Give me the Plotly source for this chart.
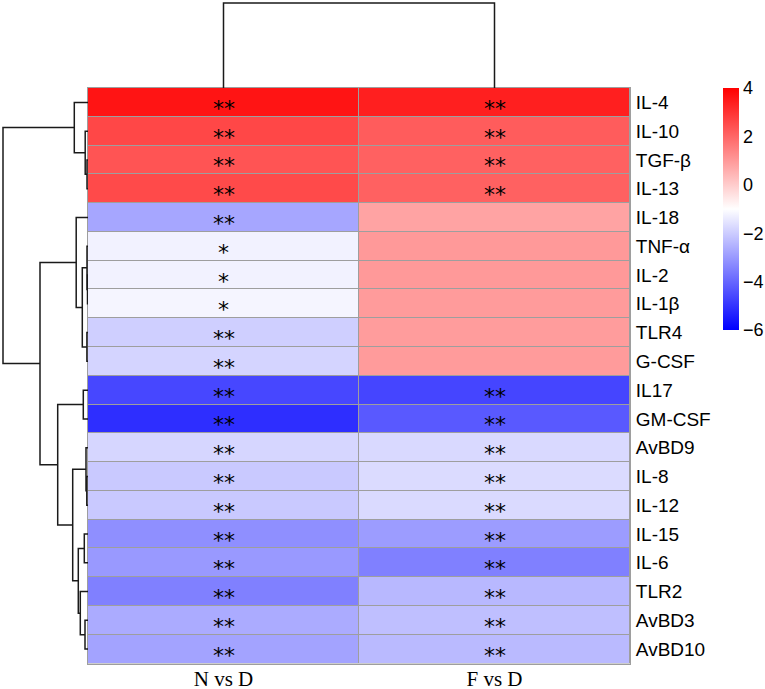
import plotly.graph_objects as go

W, H = 765, 689

genes = ["IL-4", "IL-10", "TGF-β", "IL-13", "IL-18", "TNF-α", "IL-2", "IL-1β", "TLR4", "G-CSF",
         "IL17", "GM-CSF", "AvBD9", "IL-8", "IL-12", "IL-15", "IL-6", "TLR2", "AvBD3", "AvBD10"]
groups = ["N vs D", "F vs D"]

# log2 fold change per comparison
n_vs_d = [3.6, 2.6, 2.35, 2.55, -2.75, -1.25, -1.25, -1.2, -1.95, -1.85,
          -4.6, -5.1, -1.8, -2.05, -2.05, -3.2, -3.0, -3.5, -2.65, -2.8]
f_vs_d = [3.4, 2.2, 2.1, 2.1, 0.8, 1.0, 1.0, 0.97, 0.95, 0.97,
          -4.65, -4.25, -1.75, -1.7, -1.72, -2.95, -3.5, -2.4, -2.25, -2.35]

n_sig = ["**", "**", "**", "**", "**", "*", "*", "*", "**", "**",
         "**", "**", "**", "**", "**", "**", "**", "**", "**", "**"]
f_sig = ["**", "**", "**", "**", "", "", "", "", "", "",
         "**", "**", "**", "**", "**", "**", "**", "**", "**", "**"]

# hierarchical clustering, hclust style: (left, right, height), ids >= n are earlier merges
row_merges = [
    (2, 3, 1.0), (1, 20, 2.8), (0, 21, 13.7),
    (6, 7, 0.5), (5, 23, 1.0), (8, 9, 1.1), (24, 25, 5.7), (4, 26, 11.8),
    (10, 11, 4.7), (13, 14, 1.2), (12, 29, 2.0), (15, 16, 3.7), (18, 19, 3.0),
    (17, 32, 7.7), (31, 33, 9.7), (30, 34, 15.3), (28, 35, 30.3),
    (27, 36, 48.0), (22, 37, 85.0),
]
col_merges = [(0, 1, 85.0)]

colorbar_ticks = [4, 2, 0, -2, -4, -6]


def dendro_segments(merges, n_leaves):
    pos = {i: float(i) for i in range(n_leaves)}
    hgt = {i: 0.0 for i in range(n_leaves)}
    p, h = [], []
    for k, (a, b, height) in enumerate(merges):
        pa, pb = pos[a], pos[b]
        p += [pa, pa, pb, pb, None]
        h += [hgt[a], height, height, hgt[b], None]
        pos[n_leaves + k] = (pa + pb) / 2
        hgt[n_leaves + k] = height
    return p, h


# pixel layout
hm_left, hm_right = 88, 630
hm_top, hm_bottom = 88, 663.5
x_dom = [hm_left / W, hm_right / W]
y_dom = [1 - hm_bottom / H, 1 - hm_top / H]
grid_color = "#9E9E9E"

z = [[n, f] for n, f in zip(n_vs_d, f_vs_d)]
rows = list(range(len(genes)))

fig = go.Figure()

fig.add_trace(go.Heatmap(
    z=z, x=[0, 1], y=rows,
    zmin=-6, zmax=4,
    colorscale=[[0, "#0000FF"], [0.5, "#FFFFFF"], [1, "#FF0000"]],
    xgap=1, ygap=1,
    hoverinfo="skip",
    colorbar=dict(
        x=723 / W, xanchor="left", xpad=0,
        y=1 - 88 / H, yanchor="top", ypad=0,
        len=242 / H, lenmode="fraction",
        thickness=16, thicknessmode="pixels",
        outlinewidth=0,
        tickvals=colorbar_ticks,
        ticks="",
        tickfont=dict(family="Liberation Sans, Arial", size=18, color="black"),
    ),
))

rp, rh = dendro_segments(row_merges, len(genes))
fig.add_trace(go.Scatter(x=rh, y=rp, mode="lines", xaxis="x2", yaxis="y2",
                         line=dict(color="#1a1a1a", width=1.5), hoverinfo="skip",
                         showlegend=False))

cp, ch = dendro_segments(col_merges, len(groups))
fig.add_trace(go.Scatter(x=cp, y=ch, mode="lines", xaxis="x3", yaxis="y3",
                         line=dict(color="#1a1a1a", width=1.5), hoverinfo="skip",
                         showlegend=False))

# cell borders show through the heatmap gaps
fig.add_shape(type="rect", xref="x domain", yref="y domain", x0=0, x1=1, y0=0, y1=1,
              fillcolor=grid_color, line=dict(width=0), layer="below")

# significance stars
for i in rows:
    for j, sig in enumerate([n_sig[i], f_sig[i]]):
        if sig:
            fig.add_annotation(x=j, y=i, text=sig, showarrow=False, yshift=-6,
                               font=dict(family="DejaVu Sans", size=22, color="black"))

fig.update_layout(
    width=W, height=H,
    margin=dict(l=0, r=0, t=0, b=0),
    paper_bgcolor="white",
    plot_bgcolor="white",
    showlegend=False,
    xaxis=dict(domain=x_dom, range=[-0.5, 1.5], tickvals=[0, 1], ticktext=groups,
               showgrid=False, zeroline=False, ticks="", automargin=False,
               showline=True, mirror=True, linecolor=grid_color, linewidth=1,
               ticklabelstandoff=-4,
               tickfont=dict(family="Liberation Serif, Times New Roman", size=21, color="black")),
    yaxis=dict(domain=y_dom, range=[19.5, -0.5], tickvals=rows, ticktext=genes,
               side="right", showgrid=False, zeroline=False, ticks="", automargin=False,
               showline=True, mirror=True, linecolor=grid_color, linewidth=1,
               ticklabelstandoff=1,
               tickfont=dict(family="Liberation Sans, Arial", size=19, color="black")),
    xaxis2=dict(domain=[0, hm_left / W], range=[88, 0], visible=False),
    yaxis2=dict(domain=y_dom, range=[19.5, -0.5], visible=False, anchor="x2"),
    xaxis3=dict(domain=x_dom, range=[-0.5, 1.5], visible=False, anchor="y3"),
    yaxis3=dict(domain=[1 - hm_top / H, 1], range=[0, 88], visible=False, anchor="x3"),
)

fig.write_html("out.html", config={"displayModeBar": False},
               post_script="document.body.style.margin = '0';")
